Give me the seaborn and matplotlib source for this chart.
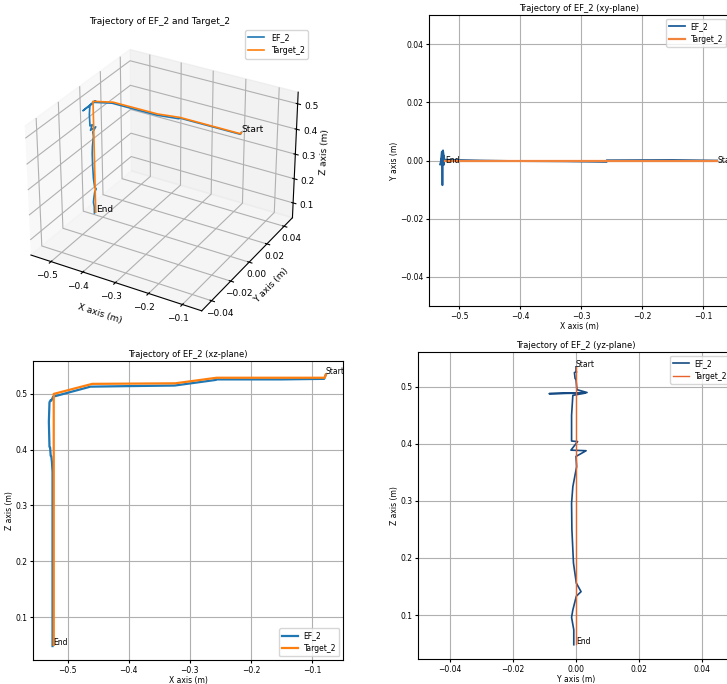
import numpy as np
import pandas as pd
import matplotlib
matplotlib.use("Agg")
import matplotlib.pyplot as plt
import seaborn as sns

# ---------------- data ----------------
ef_x = [-0.077, -0.080, -0.150, -0.258, -0.258, -0.325, -0.400, -0.463, -0.524, -0.526,
        -0.527, -0.528, -0.530, -0.531, -0.530, -0.529, -0.528, -0.527, -0.526, -0.525,
        -0.525, -0.525, -0.525, -0.525, -0.525, -0.525, -0.525, -0.525, -0.525, -0.525,
        -0.525]
ef_y = [0.0000, 0.0000, 0.0002, 0.0001, -0.0005, -0.0003, -0.0002, 0.0000, 0.0003, 0.0035,
        -0.0085, 0.0030, -0.0010, -0.0014, -0.0014, 0.0005, -0.0016, 0.0032, 0.0000, 0.0002,
        -0.0010, -0.0014, -0.0013, -0.0008, 0.0001, 0.0016, 0.0001, -0.0010, -0.0014, -0.0007,
        -0.0007]
ef_z = [0.535, 0.527, 0.526, 0.526, 0.525, 0.515, 0.514, 0.513, 0.495, 0.490,
        0.488, 0.489, 0.485, 0.450, 0.405, 0.404, 0.389, 0.388, 0.378, 0.360,
        0.325, 0.296, 0.250, 0.191, 0.156, 0.141, 0.133, 0.109, 0.096, 0.074,
        0.048]

tg_x = [-0.077, -0.079, -0.256, -0.324, -0.460, -0.523, -0.523, -0.523]
tg_y = [0.0, 0.0, 0.0, 0.0, 0.0, 0.0, 0.0, 0.0]
tg_z = [0.535, 0.529, 0.529, 0.519, 0.518, 0.500, 0.300, 0.050]

ef_label = "EF_2"
tg_label = "Target_2"
xlab, ylab, zlab = "X axis (m)", "Y axis (m)", "Z axis (m)"

plt.rcParams["font.size"] = 6
plt.rcParams["font.family"] = ["DejaVu Sans"]
plt.rcParams["xtick.major.size"] = 2.5
plt.rcParams["ytick.major.size"] = 2.5
plt.rcParams["xtick.major.pad"] = 1.5
plt.rcParams["ytick.major.pad"] = 1.5

ef_df = pd.DataFrame({"x": ef_x, "y": ef_y, "z": ef_z})
tg_df = pd.DataFrame({"x": tg_x, "y": tg_y, "z": tg_z})

W, H = 727, 684
fig = plt.figure(figsize=(W / 100, H / 100), dpi=100)


def px_axes(left, top, right, bottom, **kw):
    return fig.add_axes([left / W, 1 - bottom / H, (right - left) / W, (bottom - top) / H], **kw)


blue = "#1f77b4"
orange = "#ff7f0e"
TS = 5.5   # tick / label size for the 2-D panels

# ---------------- 3D view ----------------
ax3 = px_axes(8, 26, 312, 330, projection="3d")
ax3.plot(ef_x, ef_y, ef_z, color=blue, lw=1.2, label=ef_label)
ax3.plot(tg_x, tg_y, tg_z, color=orange, lw=1.2, label=tg_label)
ax3.text(tg_x[0], tg_y[0], tg_z[0], "Start", fontsize=6.5)
ax3.text(tg_x[-1], tg_y[-1], tg_z[-1], "End", fontsize=6.5)
ax3.set_ylim(-0.05, 0.05)
ax3.set_xlabel(xlab, fontsize=6.5, labelpad=-5)
ax3.set_ylabel(ylab, fontsize=6.5, labelpad=-6)
ax3.set_zlabel(zlab, fontsize=6.5, labelpad=-8)
ax3.tick_params(axis="x", labelsize=6.5, pad=-3)
ax3.tick_params(axis="y", labelsize=6.5, pad=-3)
ax3.tick_params(axis="z", labelsize=6.5, pad=-2)
ax3.set_title("Trajectory of EF_2 and Target_2", fontsize=6.5, pad=1)
ax3.legend(fontsize=5.8, loc="upper right")

# ---------------- xy plane ----------------
axy = px_axes(429, 15, 730, 306)
sns.lineplot(data=ef_df, x="x", y="y", sort=False, estimator=None, color="#1f5f9a",
             lw=1.3, label=ef_label, ax=axy)
sns.lineplot(data=tg_df, x="x", y="y", sort=False, estimator=None, color="#f0843c",
             lw=1.6, label=tg_label, ax=axy)
axy.text(tg_x[0], tg_y[0], "Start", fontsize=TS, va="center")
axy.text(tg_x[-1], tg_y[-1], "End", fontsize=TS, va="center")
axy.set_xlim(-0.549, -0.056)
axy.set_ylim(-0.05, 0.05)
axy.set_yticks([-0.04, -0.02, 0.0, 0.02, 0.04])
axy.tick_params(labelsize=TS)
axy.set_xlabel(xlab, fontsize=TS, labelpad=1)
axy.set_ylabel(ylab, fontsize=TS, labelpad=1)
axy.set_title("Trajectory of EF_2 (xy-plane)", fontsize=6, pad=3)
axy.grid(True)
axy.legend(fontsize=TS, loc="upper right")

# ---------------- xz plane ----------------
axz = px_axes(33, 361, 343, 660)
sns.lineplot(data=ef_df, x="x", y="z", sort=False, estimator=None, color=blue,
             lw=1.6, label=ef_label, ax=axz)
sns.lineplot(data=tg_df, x="x", y="z", sort=False, estimator=None, color=orange,
             lw=1.6, label=tg_label, ax=axz)
axz.text(tg_x[0], tg_z[0], "Start", fontsize=TS)
axz.text(tg_x[-1], tg_z[-1], "End", fontsize=TS)
axz.set_xlim(-0.557, -0.049)
axz.set_ylim(0.023, 0.559)
axz.tick_params(labelsize=TS)
axz.set_xlabel(xlab, fontsize=TS, labelpad=1)
axz.set_ylabel(zlab, fontsize=TS, labelpad=1)
axz.set_title("Trajectory of EF_2 (xz-plane)", fontsize=6, pad=3)
axz.grid(True)
axz.legend(fontsize=TS, loc="lower right")

# ---------------- yz plane ----------------
ayz = px_axes(418, 352, 734, 659)
sns.lineplot(data=ef_df, x="y", y="z", sort=False, estimator=None, color="#154a82",
             lw=1.2, label=ef_label, ax=ayz)
sns.lineplot(data=tg_df, x="y", y="z", sort=False, estimator=None, color="#e8622c",
             lw=1.0, label=tg_label, ax=ayz)
ayz.text(tg_y[0], tg_z[0], "Start", fontsize=TS)
ayz.text(tg_y[-1], tg_z[-1], "End", fontsize=TS)
ayz.set_xlim(-0.05, 0.05)
ayz.set_ylim(0.023, 0.561)
ayz.set_xticks([-0.04, -0.02, 0.0, 0.02, 0.04])
ayz.tick_params(labelsize=TS)
ayz.set_xlabel(ylab, fontsize=TS, labelpad=1)
ayz.set_ylabel(zlab, fontsize=TS, labelpad=1)
ayz.set_title("Trajectory of EF_2 (yz-plane)", fontsize=6, pad=3)
ayz.grid(True)
ayz.legend(fontsize=TS, loc="upper right")

fig.savefig("out.png", dpi=100)
